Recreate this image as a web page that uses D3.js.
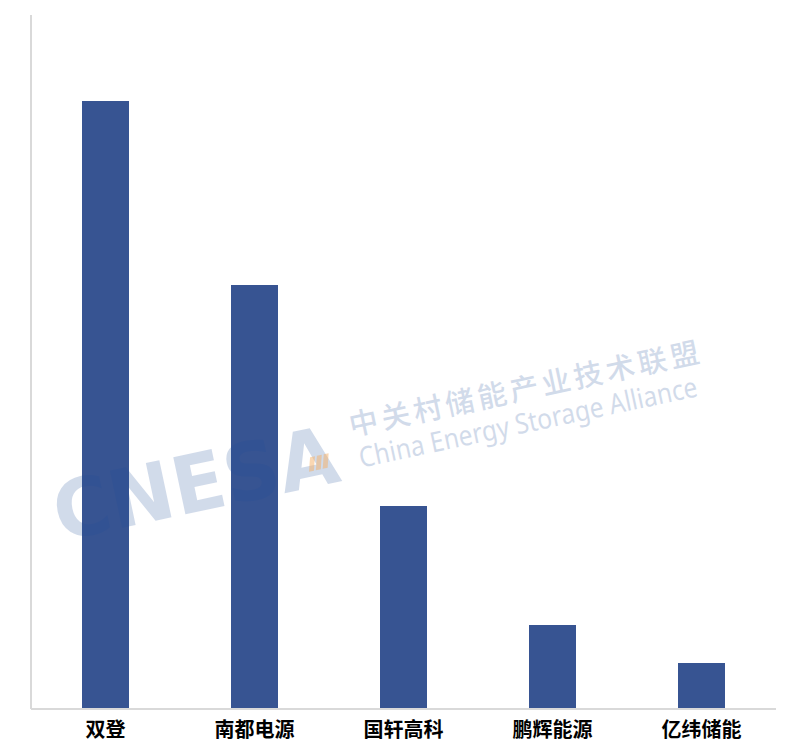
<!DOCTYPE html>
<html>
<head>
<meta charset="utf-8">
<script src="https://cdn.jsdelivr.net/npm/d3@7/dist/d3.min.js"></script>
<style>
  html, body { margin: 0; padding: 0; background: #ffffff; }
  svg { display: block; }
</style>
</head>
<body>
<svg id="chart" width="786" height="754"></svg>
<script>
// ---- data ----
const categories = ["双登", "南都电源", "国轩高科", "鹏辉能源", "亿纬储能"];
const values = [607, 423, 202, 83, 45];
const yMax = 693;

// ---- layout ----
const plot = { left: 31, right: 776, top: 15, bottom: 708 };

const svg = d3.select("#chart");

const x = d3.scaleBand()
  .domain(categories)
  .range([plot.left, plot.right])
  .paddingInner(102 / 149)
  .paddingOuter(51 / 149);

const y = d3.scaleLinear()
  .domain([0, yMax])
  .range([plot.bottom, plot.top]);

// bars
svg.append("g")
  .selectAll("rect")
  .data(categories)
  .join("rect")
  .attr("x", d => x(d))
  .attr("width", x.bandwidth())
  .attr("y", (d, i) => y(values[i]))
  .attr("height", (d, i) => y(0) - y(values[i]))
  .attr("fill", "#375492");

// axis lines
svg.append("line")
  .attr("x1", plot.left).attr("x2", plot.left)
  .attr("y1", y(yMax)).attr("y2", y(0) + 1)
  .attr("stroke", "#d9d9d9").attr("stroke-width", 2);

const xAxis = svg.append("g")
  .attr("transform", `translate(0,${y(0) + 1})`)
  .call(d3.axisBottom(x).tickSize(0).tickPadding(14));
xAxis.select(".domain")
  .attr("d", `M${plot.left},0H${plot.right}`)
  .attr("stroke", "#d9d9d9").attr("stroke-width", 2);
xAxis.selectAll("text")
  .attr("font-family", "'Noto Sans CJK SC', sans-serif")
  .attr("font-weight", 700)
  .attr("font-size", "20px")
  .attr("fill", "#000000");

// watermark
const wm = svg.append("g")
  .attr("transform", "translate(60,541) rotate(-12)")
  .attr("fill", "#1f4e9a")
  .attr("opacity", 0.2)
  .style("pointer-events", "none");

wm.append("text")
  .attr("x", 0).attr("y", 0)
  .attr("font-family", "'DejaVu Sans', sans-serif")
  .attr("font-weight", 700)
  .attr("font-size", "80px")
  .attr("textLength", 289)
  .attr("lengthAdjust", "spacingAndGlyphs")
  .text("CNESA");

wm.append("text")
  .attr("x", 307).attr("y", -42)
  .attr("font-family", "'Noto Sans CJK SC', sans-serif")
  .attr("font-weight", 500)
  .attr("font-size", "29px")
  .attr("textLength", 357)
  .attr("lengthAdjust", "spacing")
  .text("中关村储能产业技术联盟");

wm.append("text")
  .attr("x", 310).attr("y", -9)
  .attr("font-family", "'Noto Sans', 'Open Sans', sans-serif")
  .attr("font-size", "28px")
  .attr("textLength", 345)
  .attr("lengthAdjust", "spacingAndGlyphs")
  .text("China Energy Storage Alliance");

// orange stripes in the "A"
const stripes = [0, 1, 2];
svg.append("g")
  .attr("transform", "translate(60,541) rotate(-12)")
  .selectAll("polygon")
  .data(stripes)
  .join("polygon")
  .attr("points", d => {
    const x0 = 258 + d * 7;
    return `${x0},-16 ${x0 + 5},-16 ${x0 + 9},-30 ${x0 + 4},-30`;
  })
  .attr("fill", "#f5b066")
  .attr("opacity", 0.5);
</script>
</body>
</html>
